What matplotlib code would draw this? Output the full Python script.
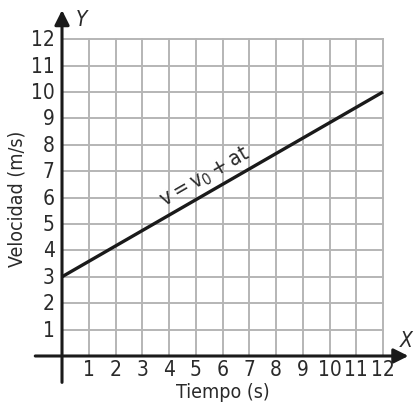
import matplotlib
matplotlib.use("Agg")
import matplotlib.pyplot as plt
import numpy as np

# Uniformly accelerated motion: v = v0 + a*t
t_ticks = list(range(1, 13))
v_ticks = list(range(1, 13))
t_line = [0, 12]
v_line = [3, 10]

plt.rcParams['font.family'] = ['DejaVu Sans']
plt.rcParams['font.stretch'] = 'condensed'
plt.rcParams['mathtext.fontset'] = 'custom'
plt.rcParams['mathtext.it'] = 'DejaVu Sans:italic:stretch=condensed'
plt.rcParams['mathtext.rm'] = 'DejaVu Sans:stretch=condensed'

fig = plt.figure(figsize=(4.15, 4.06), dpi=100)
ax = fig.add_axes([0, 0, 1, 1])
ax.set_xlim(-2.318, 13.196)
ax.set_ylim(-1.856, 13.52)
ax.axis('off')

# Grid
grid_color = '#b5b5b5'
for k in range(1, 13):
    ax.plot([k, k], [0, 12], color=grid_color, lw=1.4, zorder=1)
    ax.plot([0, 12], [k, k], color=grid_color, lw=1.4, zorder=1)

# Axes with arrows
ax.annotate('', xy=(12.95, 0), xytext=(-1.0, 0),
            arrowprops=dict(arrowstyle='-|>', lw=2.2, color='#1a1a1a',
                            mutation_scale=22, shrinkA=0, shrinkB=0), zorder=3)
ax.annotate('', xy=(0, 13.1), xytext=(0, -1.0),
            arrowprops=dict(arrowstyle='-|>', lw=2.2, color='#1a1a1a',
                            mutation_scale=22, shrinkA=0, shrinkB=0), zorder=3)

# Tick labels
tick_fs = 15
txt = '#2a2a2a'
for t in t_ticks:
    ax.text(t, -0.5, str(t), ha='center', va='center', fontsize=tick_fs, color=txt)
for v in v_ticks:
    ax.text(-0.27, v, str(v), ha='right', va='center', fontsize=tick_fs, color=txt)

ax.text(0.5, 12.78, 'Y', fontsize=15, style='italic', ha='left', va='center', color=txt)
ax.text(12.62, 0.62, 'X', fontsize=15, style='italic', ha='left', va='center', color=txt)

ax.text(6.0, -1.33, 'Tiempo (s)', ha='center', va='center', fontsize=14, color=txt)
ax.text(-1.68, 6.0, 'Velocidad (m/s)', ha='center', va='center', rotation=90,
        fontsize=14, color=txt)

# Velocity line
ax.plot(t_line, v_line, color='#1a1a1a', lw=2.4, zorder=4, solid_capstyle='butt')

angle = np.degrees(np.arctan2((v_line[1] - v_line[0]) * 26.4, (t_line[1] - t_line[0]) * 26.75))
ax.text(5.35, 6.82, r'$\mathrm{v = v_0 + at}$', rotation=angle, rotation_mode='anchor',
        ha='center', va='center', fontsize=15.5, color=txt)

fig.savefig('out.png', dpi=100, facecolor='white')
